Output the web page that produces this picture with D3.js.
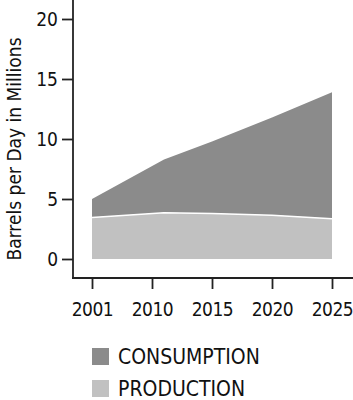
<!DOCTYPE html>
<meta charset="utf-8">
<script src="https://d3js.org/d3.v7.min.js"></script>
<style>
  body { margin: 0; background: #fff; }
  text { font-family: "Liberation Sans Narrow", "DejaVu Sans Condensed", "Roboto Condensed", sans-serif; fill: #111; }
</style>
<div id="my_dataviz"></div>
<script>
// data
var tickYears = [2001, 2010, 2015, 2020, 2025];
var years = [2001, 2011, 2015, 2020, 2025];
var consumption = [5.0, 8.3, 9.8, 11.8, 13.9];
var production = [3.45, 3.85, 3.8, 3.65, 3.35];
var yTicks = [0, 5, 10, 15, 20];
var seriesNames = ["CONSUMPTION", "PRODUCTION"];
var seriesColors = ["#8b8b8b", "#c1c1c1"];

var width = 353, height = 400;
var svg = d3.select("#my_dataviz")
  .append("svg")
    .attr("width", width)
    .attr("height", height);

// x ticks evenly spaced although years are not
var x = d3.scaleLinear()
  .domain(tickYears)
  .range(tickYears.map(function(d, i) { return 92 + i * 60; }));
var y = d3.scaleLinear()
  .domain([0, 20])
  .range([259, 19]);

var data = years.map(function(d, i) {
  return {year: d, c: consumption[i], p: production[i]};
});

// consumption area (drawn from production top up)
svg.append("path")
  .datum(data)
  .attr("fill", seriesColors[0])
  .attr("d", d3.area()
    .x(function(d) { return x(d.year); })
    .y0(function(d) { return y(d.p); })
    .y1(function(d) { return y(d.c); }));

svg.append("path")
  .datum(data)
  .attr("fill", seriesColors[1])
  .attr("d", d3.area()
    .x(function(d) { return x(d.year); })
    .y0(y(0))
    .y1(function(d) { return y(d.p); }));

// white separator
svg.append("path")
  .datum(data)
  .attr("fill", "none")
  .attr("stroke", "#fff")
  .attr("stroke-width", 1.5)
  .attr("d", d3.line()
    .x(function(d) { return x(d.year); })
    .y(function(d) { return y(d.p); }));

// Y axis
var yAxis = svg.append("g")
  .attr("transform", "translate(73,0)")
  .call(d3.axisLeft(y).tickValues(yTicks).tickSize(11).tickPadding(4).tickSizeOuter(0));
yAxis.select(".domain").remove();
yAxis.append("line").attr("x1", 0).attr("x2", 0).attr("y1", 0).attr("y2", 279);

// X axis
var xAxis = svg.append("g")
  .attr("transform", "translate(0,278)")
  .call(d3.axisBottom(x).tickValues(tickYears).tickFormat(d3.format("d")).tickSize(11).tickPadding(14).tickSizeOuter(0));
xAxis.select(".domain").remove();
xAxis.append("line").attr("x1", 72).attr("x2", 353).attr("y1", 0).attr("y2", 0);

svg.selectAll(".tick text").style("font-size", "19px").attr("fill", "#111");
xAxis.selectAll(".tick text").style("letter-spacing", "-0.5px");
svg.selectAll(".tick line").attr("stroke", "#222").attr("stroke-width", 1.8);
svg.selectAll("g > line").attr("stroke", "#222").attr("stroke-width", 1.8);

// Y label
svg.append("text")
  .attr("transform", "translate(21,149) rotate(-90)")
  .attr("text-anchor", "middle")
  .style("font-size", "19px")
  .text("Barrels per Day in Millions");

// legend
var legend = svg.selectAll(".legend")
  .data(seriesNames)
  .enter().append("g")
    .attr("transform", function(d, i) { return "translate(92," + (348 + i * 32) + ")"; });
legend.append("rect")
  .attr("width", 17).attr("height", 17)
  .attr("fill", function(d, i) { return seriesColors[i]; });
legend.append("text")
  .attr("x", 26).attr("y", 16)
  .style("font-size", "21px")
  .text(function(d) { return d; });
</script>
